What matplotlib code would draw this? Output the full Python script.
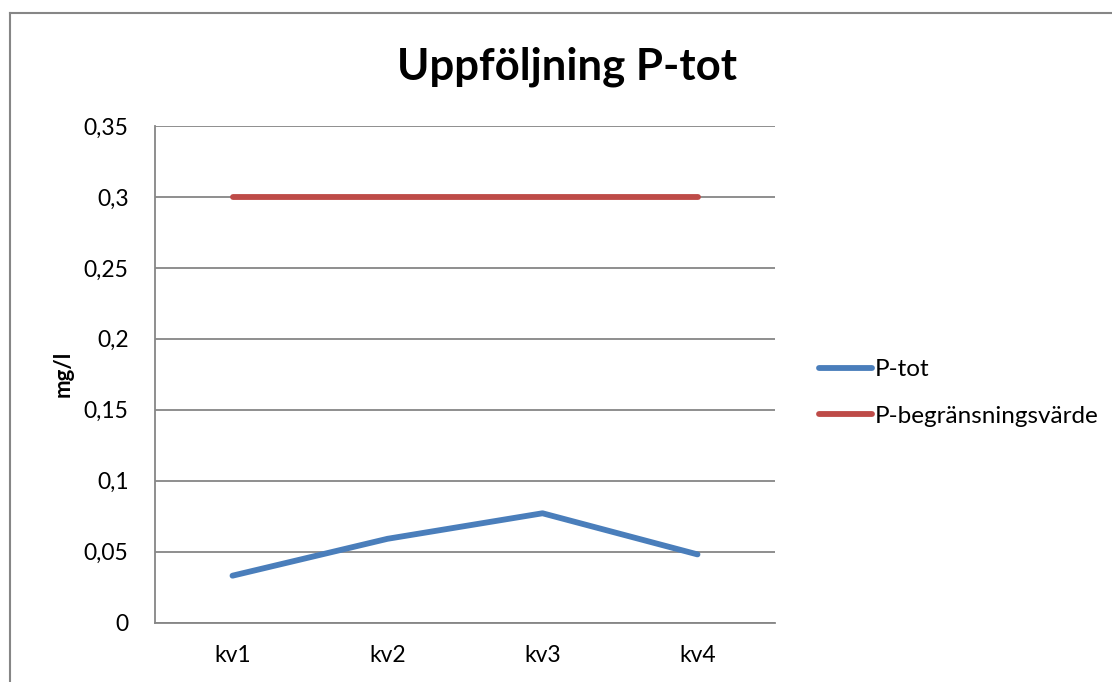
import matplotlib
matplotlib.use("Agg")
import matplotlib.pyplot as plt
from matplotlib.lines import Line2D

# Quarterly follow-up of total phosphorus against the permit limit
categories = ["kv1", "kv2", "kv3", "kv4"]
p_tot = [0.033, 0.059, 0.077, 0.048]
p_limit = [0.3, 0.3, 0.3, 0.3]
y_ticks = [0, 0.05, 0.1, 0.15, 0.2, 0.25, 0.3, 0.35]
y_tick_labels = ["0", "0,05", "0,1", "0,15", "0,2", "0,25", "0,3", "0,35"]

plt.rcParams["font.family"] = ["Lato", "DejaVu Sans"]

W, H = 1112, 682
fig = plt.figure(figsize=(W / 100, H / 100), dpi=100)
fig.patch.set_facecolor("white")

# chart frame (left and top edges)
frame_color = "#868686"
fig.add_artist(Line2D([10 / W, 10 / W], [0, 1 - 13 / H], transform=fig.transFigure,
                      color=frame_color, linewidth=1.5))
fig.add_artist(Line2D([10 / W, 1], [1 - 13 / H, 1 - 13 / H], transform=fig.transFigure,
                      color=frame_color, linewidth=1.5))

ax = fig.add_axes([155 / W, 1 - 622.5 / H, (775 - 155) / W, (622.5 - 126) / H])

x = range(len(categories))
blue = "#4a7ebb"
red = "#be4b48"
ax.plot(x, p_tot, color=blue, linewidth=4.2, solid_capstyle="round",
        solid_joinstyle="round", label="P-tot", zorder=3)
ax.plot(x, p_limit, color=red, linewidth=4.2, solid_capstyle="round",
        label="P-begränsningsvärde", zorder=3)

ax.set_xlim(-0.5, len(categories) - 0.5)
ax.set_ylim(0, 0.35)
ax.set_yticks(y_ticks)
ax.set_yticklabels(y_tick_labels)
ax.set_xticks(list(x))
ax.set_xticklabels(categories)
ax.tick_params(axis="both", length=0, labelsize=16.5, colors="black")
ax.tick_params(axis="y", pad=19)
ax.tick_params(axis="x", pad=16)

ax.grid(axis="y", color=frame_color, linewidth=1.3)
ax.set_axisbelow(True)
for side in ("top", "right"):
    ax.spines[side].set_visible(False)
for side in ("left", "bottom"):
    ax.spines[side].set_color(frame_color)
    ax.spines[side].set_linewidth(1.3)

ax.set_ylabel("mg/l", fontsize=16, fontweight="bold", labelpad=7)

fig.text(567 / W, 1 - 67 / H, "Uppföljning P-tot", ha="center", va="center",
         fontsize=31.5, fontweight="bold")

ax.legend(loc="center left", bbox_to_anchor=(797 / W, 1 - 393 / H),
          bbox_transform=fig.transFigure, frameon=False, fontsize=17.5,
          handlelength=2.2, handletextpad=0.1, labelspacing=1.05)

fig.savefig("out.png", dpi=100, facecolor="white")
